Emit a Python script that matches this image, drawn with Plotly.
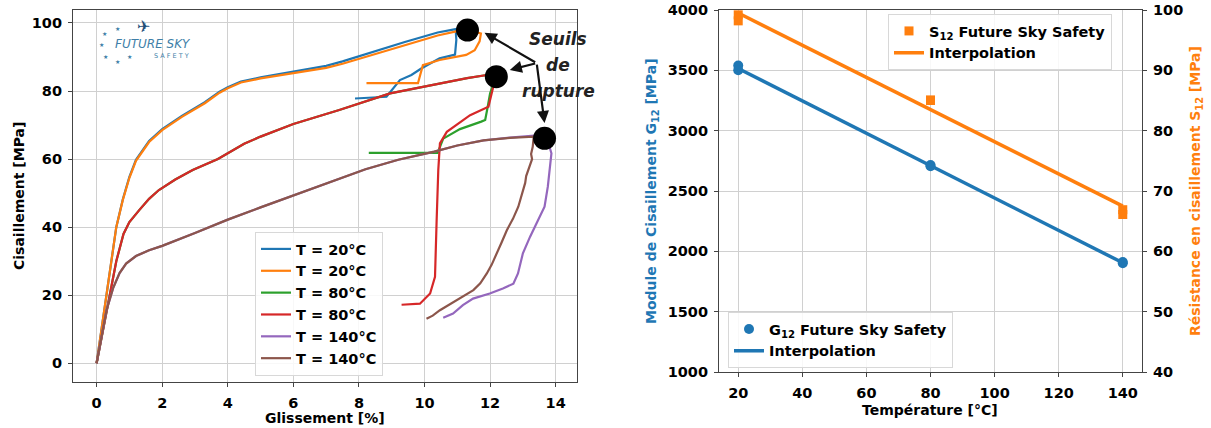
import plotly.graph_objects as go

# ---------------- Left chart data (Glissement [%] vs Cisaillement [MPa]) ----------------
legend_labels = ["T = 20°C", "T = 20°C", "T = 80°C", "T = 80°C", "T = 140°C", "T = 140°C"]
colors = ["#1f77b4", "#ff7f0e", "#2ca02c", "#d62728", "#9467bd", "#8c564b"]

glis_20a = [0, 0.15, 0.3, 0.45, 0.6, 0.8, 1.0, 1.2, 1.6, 2.0, 2.6, 3.3, 3.75, 4.0, 4.4, 5.0, 6.0, 7.0, 7.5,
            8.4, 9.4, 10.4, 10.95, 10.97, 10.93, 10.46, 9.9, 9.6, 9.25, 8.84, 7.88]
cis_20a = [0, 10, 20, 30, 40, 48.2, 54.8, 59.8, 65.3, 68.8, 72.7, 76.7, 79.8, 81.1, 82.8, 84.0, 85.6, 87.4, 88.7,
           91.5, 94.4, 97.2, 98.2, 95.0, 90.7, 89.6, 86.6, 84.7, 83.2, 78.3, 77.8]

glis_20b = [0, 0.15, 0.3, 0.45, 0.6, 0.8, 1.0, 1.2, 1.6, 2.0, 2.6, 3.3, 3.75, 4.0, 4.4, 5.0, 6.0, 7.0, 7.5,
            8.4, 9.4, 10.4, 11.0, 11.4, 11.72, 11.68, 11.53, 11.27, 10.46, 9.95, 9.8, 8.23]
cis_20b = [0, 10, 20, 30, 40, 48, 54.5, 59.5, 65, 68.5, 72.4, 76.4, 79.5, 80.8, 82.5, 83.7, 85.2, 86.8, 88,
           90.6, 93.4, 96.3, 97.6, 97.8, 96.9, 94.6, 92.0, 90.6, 89.1, 87.6, 82.3, 82.3]

glis_80a = [0, 0.2, 0.38, 0.6, 0.82, 1.0, 1.3, 1.6, 1.9, 2.4, 2.93, 3.7, 4.5, 5.0, 6.0, 7.4, 8.95, 10.47, 11.3,
            11.9, 12.15, 12.1, 12.0, 11.92, 11.85, 11.73, 11.08, 10.57, 10.45, 10.4, 8.3]
cis_80a = [0, 10, 20, 30, 38, 41.5, 45, 48.3, 50.9, 54, 56.8, 60, 64.5, 66.6, 70.3, 74.4, 79.3, 82.2, 83.8,
           84.7, 85, 82, 79.3, 75, 71.5, 71, 68.8, 66, 63.3, 61.8, 61.8]

glis_80b = [0, 0.2, 0.38, 0.6, 0.82, 1.0, 1.3, 1.6, 1.9, 2.4, 2.93, 3.7, 4.5, 5.0, 6.0, 7.4, 8.95, 10.47, 11.3,
            11.9, 12.15, 12.1, 11.95, 11.39, 10.68, 10.47, 10.42, 10.37, 10.32, 10.17, 9.86, 9.3]
cis_80b = [0, 10, 20, 30, 38, 41.5, 45, 48.3, 50.9, 54, 56.8, 60, 64.5, 66.6, 70.3, 74.4, 79.3, 82.2, 83.8,
           84.7, 85, 81.4, 75.4, 72.9, 68, 64.6, 56.8, 42.1, 25.4, 20.5, 17.5, 17.2]

glis_140a = [0, 0.15, 0.3, 0.5, 0.7, 0.9, 1.2, 1.6, 2.0, 3.0, 4.0, 5.0, 6.0, 7.0, 8.2, 9.2, 10.3, 11.0, 11.8,
             12.6, 13.3, 13.7, 13.87, 13.76, 13.66, 13.46, 13.31, 13.22, 13.0, 12.85, 12.71, 12.39, 11.99,
             11.48, 11.17, 10.87, 10.57]
cis_140a = [0, 8, 15.5, 22, 26.5, 29.3, 31.5, 33.2, 34.5, 38.3, 42.2, 45.8, 49.3, 52.8, 57, 59.8, 62.2, 64,
            65.5, 66.3, 66.8, 67.2, 61.7, 51.9, 46, 42, 39.1, 37.2, 32.3, 26.4, 23.4, 22, 20.5,
            19, 17.1, 14.6, 13.4]

glis_140b = [0, 0.15, 0.3, 0.5, 0.7, 0.9, 1.2, 1.6, 2.0, 3.0, 4.0, 5.0, 6.0, 7.0, 8.2, 9.2, 10.3, 11.0, 11.8,
             12.6, 13.33, 13.3, 13.25, 13.28, 13.2, 13.1, 13.07, 12.95, 12.86, 12.7, 12.51, 12.35, 12.2, 12.05,
             11.9, 11.7, 11.49, 11.2, 10.98, 10.7, 10.47, 10.25, 10.06]
cis_140b = [0, 8, 15.5, 22, 26.5, 29.3, 31.5, 33.2, 34.5, 38.3, 42.2, 45.8, 49.3, 52.8, 57, 59.8, 62.2, 64,
            65.5, 66.2, 66.6, 63.6, 61.5, 60, 57.5, 55, 53, 49, 46, 42.5, 39.1, 35.5, 32.2, 29,
            26.4, 23.5, 21.5, 19.8, 18.5, 17, 15.6, 14, 13.1]

rupture_glis = [11.31, 12.19, 13.66]
rupture_cis = [97.9, 84.2, 66.1]

# ---------------- Right chart data (Température vs G12 / S12) ----------------
temp_pts = [20, 20, 80, 80, 140, 140]
g12_pts = [3540, 3500, 2716, 2706, 1912, 1902]
s12_pts = [99.2, 98.2, 85.1, 85.0, 66.9, 66.1]

temp_interp = [20, 140]
g12_interp = [3515, 1905]
s12_interp = [99.5, 67.5]

W, H = 1211, 428
FONT = "DejaVu Sans"


def pxx(x):
    return x / W


def pyy(y):
    return 1 - y / H


fig = go.Figure()

series = [(glis_20a, cis_20a), (glis_20b, cis_20b), (glis_80a, cis_80a),
          (glis_80b, cis_80b), (glis_140a, cis_140a), (glis_140b, cis_140b)]
for (gx, cy), lab, col in zip(series, legend_labels, colors):
    fig.add_trace(go.Scatter(x=gx, y=cy, mode="lines", name=lab,
                             line=dict(color=col, width=2.2),
                             xaxis="x", yaxis="y", legend="legend"))

fig.add_trace(go.Scatter(x=rupture_glis, y=rupture_cis, mode="markers", showlegend=False,
                         marker=dict(color="black", size=23),
                         xaxis="x", yaxis="y"))

# Right chart
fig.add_trace(go.Scatter(x=temp_pts, y=g12_pts, mode="markers",
                         name="<b>G<sub>12</sub> Future Sky Safety</b>",
                         marker=dict(color="#1f77b4", size=10, symbol="circle"),
                         xaxis="x2", yaxis="y2", legend="legend3"))
fig.add_trace(go.Scatter(x=temp_interp, y=g12_interp, mode="lines",
                         name="<b>Interpolation</b>",
                         line=dict(color="#1f77b4", width=3.5),
                         xaxis="x2", yaxis="y2", legend="legend3"))
fig.add_trace(go.Scatter(x=temp_pts, y=s12_pts, mode="markers",
                         name="<b>S<sub>12</sub> Future Sky Safety</b>",
                         marker=dict(color="#ff7f0e", size=9, symbol="square"),
                         xaxis="x2", yaxis="y3", legend="legend2"))
fig.add_trace(go.Scatter(x=temp_interp, y=s12_interp, mode="lines",
                         name="<b>Interpolation</b>",
                         line=dict(color="#ff7f0e", width=3.5),
                         xaxis="x2", yaxis="y3", legend="legend2"))

tickfont = dict(family=FONT, size=14.5, color="black", weight="bold")
axis_common = dict(showline=True, linecolor="#444", linewidth=1.2, ticks="outside", ticklen=4,
                   tickcolor="#444", tickfont=tickfont, zeroline=False, automargin=False,
                   gridcolor="#d0d0d0", gridwidth=1, ticklabelstandoff=3)

legend_common = dict(font=dict(family=FONT, size=14.5, color="black", weight="bold"),
                     bgcolor="rgba(255,255,255,0.85)", bordercolor="#d8d8d8", borderwidth=1,
                     itemwidth=30, tracegroupgap=0)

fig.update_layout(
    width=W, height=H, margin=dict(l=0, r=0, t=0, b=0, autoexpand=False),
    paper_bgcolor="white", plot_bgcolor="white",
    xaxis=dict(domain=[pxx(73), pxx(577)], range=[-0.72, 14.65], dtick=2, tick0=0,
               anchor="y", mirror=True, showgrid=True, **axis_common),
    yaxis=dict(domain=[pyy(382), pyy(10)], range=[-5.5, 103.8], dtick=20, tick0=0,
               anchor="x", mirror=True, showgrid=True, **axis_common),
    xaxis2=dict(domain=[pxx(719), pxx(1142)], range=[14, 146], dtick=20, tick0=20,
                anchor="y2", mirror=True, showgrid=True, **axis_common),
    yaxis2=dict(domain=[pyy(372), pyy(10)], range=[1000, 4000], dtick=500, tick0=1000,
                anchor="x2", showgrid=True, **axis_common),
    yaxis3=dict(range=[40, 100], dtick=10, tick0=40, overlaying="y2", side="right",
                anchor="x2", showgrid=False, **axis_common),
    legend=dict(x=pxx(255), y=pyy(232), xanchor="left", yanchor="top", **legend_common),
    legend2=dict(x=pxx(888), y=pyy(14), xanchor="left", yanchor="top", **legend_common),
    legend3=dict(x=pxx(728), y=pyy(312), xanchor="left", yanchor="top", **legend_common),
    showlegend=True,
)

title_font = dict(family=FONT, size=14, color="black", weight="bold")
ann = []


def label(text, x, y, font, angle=0):
    ann.append(dict(text=text, x=pxx(x), y=pyy(y), xref="paper", yref="paper",
                    xanchor="center", yanchor="middle", showarrow=False,
                    textangle=angle, font=font))


# axis titles
label("Glissement [%]", 325, 418, title_font)
label("Cisaillement [MPa]", 19, 196, title_font, -90)
label("Température [°C]", 930, 410, title_font)
label("Module de Cisaillement G<sub>12</sub> [MPa]", 652, 191,
      dict(family=FONT, size=14, color="#1f77b4", weight="bold"), -90)
label("Résistance en cisaillement S<sub>12</sub> [MPa]", 1196, 191,
      dict(family=FONT, size=14, color="#ff7f0e", weight="bold"), -90)

# "Seuils de rupture" text
note_font = dict(family=FONT, size=17, color="#222", weight="bold", style="italic")
for txt, yy in [("Seuils", 39), ("de", 65), ("rupture", 91)]:
    label(txt, 558, yy, note_font)

# arrows to rupture points (tail in data coords at the text)
tail_x, tail_y = 13.42, 88.2
for hx, hy in [(11.83, 97.1), (12.6, 86.2), (13.66, 70.6)]:
    ann.append(dict(x=hx, y=hy, ax=tail_x, ay=tail_y, xref="x", yref="y", axref="x", ayref="y",
                    text="", showarrow=True, arrowhead=2, arrowsize=1.1, arrowwidth=2.2,
                    arrowcolor="#111", standoff=0, startstandoff=0))

# Future Sky Safety logo (text approximation)
logo_col = "#3f7fa8"
label("FUTURE SKY", 153, 44, dict(family=FONT, size=12, color=logo_col, style="italic"))
label("S A F E T Y", 171, 56, dict(family=FONT, size=6.5, color=logo_col))
label("✈", 143, 27, dict(family=FONT, size=16, color="#1f4f78"))
for sx, sy in [(104, 33), (117, 28), (101, 44), (105, 56), (117, 61), (129, 56)]:
    label("★", sx, sy, dict(family=FONT, size=6, color=logo_col))

fig.update_layout(annotations=ann)

fig.write_html("out.html", config={"displayModeBar": False},
               default_width="1211px", default_height="428px; position:fixed; top:0; left:0",
               post_script="document.body.style.margin='0';")
